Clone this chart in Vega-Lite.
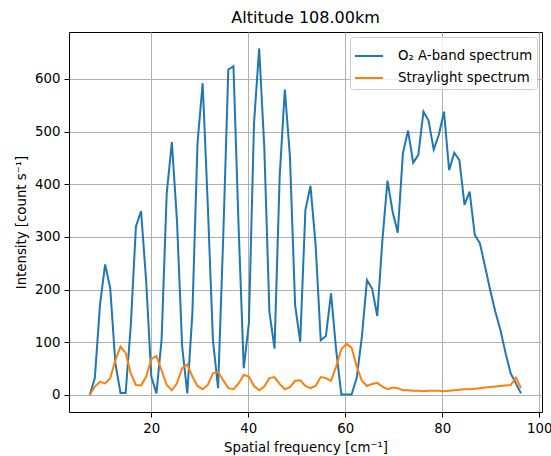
{
  "$schema": "https://vega.github.io/schema/vega-lite/v6.json",
  "width": 473,
  "height": 380,
  "autosize": {"type": "none"},
  "padding": {"left": 69, "top": 32, "right": 9, "bottom": 44},
  "background": "white",
  "title": {"text": "Altitude 108.00km", "font": "DejaVu Sans", "fontSize": 16, "fontWeight": "normal", "color": "black", "anchor": "middle", "offset": 6},
  "data": {"values": [
    {"f":7.30,"a":0,"s":0},{"f":8.36,"a":32,"s":16},{"f":9.42,"a":171,"s":25},{"f":10.48,"a":248,"s":22},{"f":11.53,"a":203,"s":32},
    {"f":12.59,"a":60,"s":66},{"f":13.65,"a":4,"s":92},{"f":14.71,"a":4,"s":80},{"f":15.77,"a":132,"s":41},{"f":16.83,"a":320,"s":19},
    {"f":17.89,"a":349,"s":18},{"f":18.95,"a":215,"s":35},{"f":20.00,"a":35,"s":68},{"f":21.06,"a":3,"s":74},{"f":22.12,"a":105,"s":47},
    {"f":23.18,"a":383,"s":19},{"f":24.24,"a":480,"s":9},{"f":25.30,"a":330,"s":22},{"f":26.36,"a":92,"s":51},{"f":27.42,"a":3,"s":58},
    {"f":28.47,"a":155,"s":35},{"f":29.53,"a":478,"s":17},{"f":30.59,"a":592,"s":11},{"f":31.65,"a":360,"s":19},{"f":32.71,"a":104,"s":41},
    {"f":33.77,"a":13,"s":44},{"f":34.83,"a":300,"s":28},{"f":35.88,"a":618,"s":13},{"f":36.94,"a":624,"s":11},{"f":38.00,"a":320,"s":22},
    {"f":39.06,"a":51,"s":38},{"f":40.12,"a":136,"s":35},{"f":41.18,"a":516,"s":17},{"f":42.24,"a":658,"s":9},{"f":43.30,"a":470,"s":16},
    {"f":44.35,"a":158,"s":32},{"f":45.41,"a":88,"s":34},{"f":46.47,"a":415,"s":21},{"f":47.53,"a":580,"s":11},{"f":48.59,"a":452,"s":15},
    {"f":49.65,"a":171,"s":27},{"f":50.71,"a":101,"s":28},{"f":51.77,"a":351,"s":17},{"f":52.82,"a":397,"s":13},{"f":53.88,"a":285,"s":17},
    {"f":54.94,"a":104,"s":34},{"f":56.00,"a":112,"s":32},{"f":57.06,"a":193,"s":27},{"f":58.12,"a":85,"s":54},{"f":59.18,"a":1,"s":87},
    {"f":60.24,"a":1,"s":97},{"f":61.29,"a":1,"s":90},{"f":62.35,"a":32,"s":54},{"f":63.41,"a":110,"s":27},{"f":64.47,"a":218,"s":17},
    {"f":65.53,"a":202,"s":21},{"f":66.59,"a":150,"s":23},{"f":67.65,"a":294,"s":16},{"f":68.70,"a":407,"s":11},{"f":69.76,"a":348,"s":14},
    {"f":70.82,"a":308,"s":13},{"f":71.88,"a":459,"s":9},{"f":72.94,"a":502,"s":9},{"f":74.00,"a":441,"s":8},{"f":75.06,"a":456,"s":8},
    {"f":76.12,"a":538,"s":7},{"f":77.17,"a":521,"s":8},{"f":78.23,"a":466,"s":8},{"f":79.29,"a":494,"s":8},{"f":80.35,"a":538,"s":7},
    {"f":81.41,"a":427,"s":8},{"f":82.47,"a":460,"s":9},{"f":83.53,"a":446,"s":10},{"f":84.58,"a":361,"s":11},{"f":85.64,"a":386,"s":11},
    {"f":86.70,"a":304,"s":12},{"f":87.76,"a":288,"s":13},{"f":88.82,"a":244,"s":14},{"f":89.88,"a":199,"s":15},{"f":90.94,"a":158,"s":16},
    {"f":92.00,"a":123,"s":17},{"f":93.06,"a":79,"s":18},{"f":94.11,"a":41,"s":19},{"f":95.17,"a":22,"s":33},{"f":96.23,"a":3,"s":13}
  ]},
  "transform": [{"fold": ["a", "s"], "as": ["series", "value"]}],
  "mark": {"type": "line", "strokeWidth": 2, "clip": true},
  "encoding": {
    "x": {"field": "f", "type": "quantitative",
      "scale": {"domain": [3.03, 100.56], "nice": false, "zero": false},
      "axis": {"values": [20, 40, 60, 80, 100], "title": "Spatial frequency [cm⁻¹]"}},
    "y": {"field": "value", "type": "quantitative",
      "scale": {"domain": [-32.3, 689.2], "nice": false, "zero": false},
      "axis": {"values": [0, 100, 200, 300, 400, 500, 600], "title": "Intensity [count s⁻¹]"}},
    "color": {"field": "series", "type": "nominal",
      "scale": {"domain": ["a", "s"], "range": ["#1f77b4", "#ff7f0e"]},
      "legend": {"title": null, "orient": "top-right", "offset": 5,
        "labelExpr": "datum.label == 'a' ? 'O₂ A-band spectrum' : 'Straylight spectrum'",
        "symbolType": "stroke", "symbolStrokeWidth": 2, "symbolSize": 784,
        "labelFont": "DejaVu Sans", "labelFontSize": 13.3, "labelColor": "black", "labelOffset": 14,
        "fillColor": "rgba(255,255,255,0.8)", "strokeColor": "#cccccc", "cornerRadius": 3,
        "padding": 4, "rowPadding": -8, "labelLimit": 300}}
  },
  "config": {
    "view": {"stroke": "black", "strokeWidth": 1},
    "axis": {
      "labelFont": "DejaVu Sans", "labelFontSize": 13.3, "labelColor": "black",
      "titleFont": "DejaVu Sans", "titleFontSize": 13.3, "titleFontWeight": "normal", "titleColor": "black",
      "grid": true, "gridColor": "#b0b0b0", "gridWidth": 1,
      "domain": false, "tickColor": "black", "tickSize": 5, "tickWidth": 1,
      "labelPadding": 4, "titlePadding": 6
    }
  }
}
